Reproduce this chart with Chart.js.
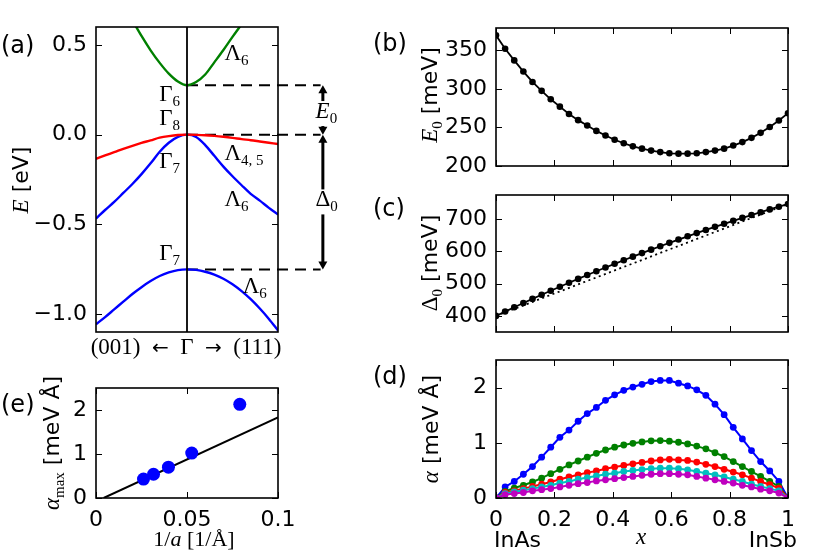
<!DOCTYPE html>
<html><head><meta charset="utf-8">
<script src="https://cdn.jsdelivr.net/npm/chart.js@4.4.1/dist/chart.umd.min.js"></script>
<style>
html,body{margin:0;padding:0;background:#fff;}
#wrap{position:relative;width:830px;height:554px;overflow:hidden;background:#fff;}
canvas{position:absolute;left:0;top:0;}
</style></head><body><div id="wrap">
<canvas id="pa" width="830" height="554"></canvas>
<canvas id="pb" width="830" height="554"></canvas>
<canvas id="pc" width="830" height="554"></canvas>
<canvas id="pd" width="830" height="554"></canvas>
<canvas id="pe" width="830" height="554"></canvas>
</div>
<script>
// ---------------- data: panel (a) band structure ----------------
const bandK = [-1,-0.9,-0.8,-0.7,-0.6,-0.5,-0.4,-0.3,-0.2,-0.1,0,0.1,0.2,0.3,0.4,0.5,0.6,0.7,0.8,0.9,1];
const heavyHoleE = [-0.135,-0.116,-0.098,-0.079,-0.062,-0.046,-0.032,-0.017,-0.008,-0.002,0,-0.001,-0.003,-0.007,-0.012,-0.018,-0.025,-0.031,-0.038,-0.045,-0.052];
const lightHoleE = [-0.468,-0.42,-0.375,-0.325,-0.275,-0.22,-0.16,-0.095,-0.045,-0.012,0,-0.013,-0.058,-0.118,-0.178,-0.232,-0.282,-0.33,-0.368,-0.408,-0.445];
const splitOffE = [-1.057,-1.017,-0.974,-0.931,-0.888,-0.850,-0.816,-0.788,-0.768,-0.755,-0.751,-0.754,-0.764,-0.780,-0.803,-0.834,-0.872,-0.917,-0.969,-1.027,-1.091];
const condK = [-0.62,-0.5,-0.4,-0.3,-0.2,-0.1,0,0.1,0.2,0.3,0.4,0.5,0.6];
const condE = [0.655,0.55,0.47,0.40,0.34,0.296,0.275,0.293,0.335,0.403,0.472,0.545,0.615];
const levelE = [0.275, 0, -0.751];          // Γ6, Γ8, Γ7 levels
const levelEndK = 1.468, arrowK = 1.493;
const aYTicks = [-1.0,-0.5,0.0,0.5];
const aYLabels = ['\u22121.0','\u22120.5','0.0','0.5'];

// ---------------- data: panels (b)-(d) vs composition ----------------
const xComp = [0,0.03125,0.0625,0.09375,0.125,0.15625,0.1875,0.21875,0.25,0.28125,0.3125,0.34375,0.375,0.40625,0.4375,0.46875,0.5,0.53125,0.5625,0.59375,0.625,0.65625,0.6875,0.71875,0.75,0.78125,0.8125,0.84375,0.875,0.90625,0.9375,0.96875,1];
const gapE0 = [369.5,352,337,322.5,309,297.5,286.5,277,267.5,259.5,252.5,245.5,239.5,234,229.5,225.5,222.5,220,218,216.5,216,216,216.5,218,220,222.5,226.5,231,236.5,243,250.5,259,268.5];
const splitDelta0 = [400,413.4,426.7,439.8,452.7,465.4,478.0,490.4,502.7,514.8,526.7,538.5,550.0,561.5,572.7,583.8,594.8,605.5,616.1,626.5,636.8,646.9,656.8,666.6,676.2,685.6,694.9,704.0,712.9,721.7,730.3,738.7,747];
const linearX = [0,1];
const linearDelta0 = [400,747];
const alphaBlue = [0,0.20,0.30,0.43,0.57,0.74,0.92,1.10,1.23,1.39,1.53,1.64,1.77,1.87,1.95,2.01,2.06,2.11,2.13,2.13,2.08,2.03,1.96,1.86,1.70,1.51,1.28,1.07,0.86,0.66,0.49,0.30,0];
const alphaGreen = [0,0.12,0.18,0.23,0.29,0.36,0.44,0.52,0.60,0.67,0.74,0.81,0.87,0.92,0.96,0.99,1.015,1.035,1.04,1.03,1.01,0.98,0.94,0.89,0.82,0.75,0.66,0.57,0.48,0.39,0.30,0.21,0];
const alphaRed = [0,0.10,0.13,0.17,0.21,0.25,0.29,0.34,0.38,0.42,0.46,0.49,0.53,0.56,0.59,0.62,0.645,0.67,0.69,0.70,0.69,0.68,0.65,0.61,0.57,0.52,0.47,0.42,0.36,0.30,0.24,0.18,0];
const alphaCyan = [0,0.08,0.11,0.14,0.17,0.20,0.23,0.27,0.30,0.34,0.37,0.40,0.43,0.45,0.48,0.50,0.515,0.53,0.54,0.54,0.53,0.51,0.48,0.45,0.42,0.38,0.34,0.30,0.25,0.21,0.17,0.13,0];
const alphaMagenta = [0,0.06,0.08,0.10,0.13,0.15,0.17,0.20,0.23,0.26,0.28,0.31,0.33,0.35,0.37,0.39,0.41,0.43,0.44,0.44,0.43,0.42,0.39,0.36,0.33,0.30,0.27,0.23,0.20,0.16,0.13,0.09,0];
const compTicks = [0,0.2,0.4,0.6,0.8,1];
const compLabels = ['0','0.2','0.4','0.6','0.8','1'];
const bTicks = [200,250,300,350], bLabels = ['200','250','300','350'];
const cTicks = [400,500,600,700], cLabels = ['400','500','600','700'];
const dTicks = [0,1,2], dLabels = ['0','1','2'];

// ---------------- data: panel (e) ----------------
const invLattice = [0.0261,0.0316,0.0398,0.0526,0.0790];
const alphaMax = [0.43,0.54,0.70,1.02,2.13];
const fitX = [0.0042,0.1];
const fitY = [0,1.834];
const eXTicks = [0,0.05,0.1], eXLabels = ['0','0.05','0.1'];
const eYTicks = [0,1,2], eYLabels = ['0','1','2'];

// ---------------- helpers ----------------
const W = 830, H = 554, YW = 90, XH = 40;
const SANS = '"DejaVu Sans"', SERIF = '"Liberation Serif"';
const F = (size, fam, style) => (style ? style + ' ' : '') + size + 'px ' + fam;
const T = (t, f, dy) => ({ t, f, dy: dy || 0 });
const zip = (xs, ys) => xs.map((x, i) => ({ x, y: ys[i] }));

function rich(ctx, x, y, parts, align, rot, bg) {
  ctx.save();
  ctx.translate(x, y);
  if (rot) ctx.rotate(rot);
  ctx.textBaseline = 'alphabetic';
  ctx.textAlign = 'left';
  let w = 0;
  const ws = parts.map(p => { ctx.font = p.f; const m = ctx.measureText(p.t).width; w += m; return m; });
  let cx = align === 'center' ? -w / 2 : (align === 'right' ? -w : 0);
  if (bg) { ctx.fillStyle = '#fff'; ctx.fillRect(cx - 1, -17, w + 2, 25); }
  ctx.fillStyle = '#000';
  parts.forEach((p, i) => { ctx.font = p.f; ctx.fillText(p.t, cx, p.dy); cx += ws[i]; });
  ctx.restore();
}

const framePlugin = {
  id: 'frame',
  afterDraw(chart) {
    const { ctx, chartArea: a, scales } = chart;
    const tl = 6;
    ctx.save();
    ctx.strokeStyle = '#000';
    ctx.lineWidth = 1;
    ctx.beginPath();
    scales.x.ticks.forEach(t => {
      const p = Math.round(scales.x.getPixelForValue(t.value)) + 0.5;
      ctx.moveTo(p, a.bottom); ctx.lineTo(p, a.bottom - tl);
      ctx.moveTo(p, a.top); ctx.lineTo(p, a.top + tl);
    });
    scales.y.ticks.forEach(t => {
      const p = Math.round(scales.y.getPixelForValue(t.value)) + 0.5;
      ctx.moveTo(a.left, p); ctx.lineTo(a.left + tl, p);
      ctx.moveTo(a.right, p); ctx.lineTo(a.right - tl, p);
    });
    ctx.stroke();
    ctx.lineWidth = 1.6;
    ctx.strokeRect(a.left, a.top, a.right - a.left, a.bottom - a.top);
    ctx.restore();
  }
};

function axis(o, dir) {
  return {
    type: 'linear', min: o.min, max: o.max,
    afterFit: s => { if (dir === 'x') s.height = XH; else s.width = YW; },
    afterBuildTicks: s => { s.ticks = o.ticks.map(v => ({ value: v })); },
    grid: { display: false, drawTicks: false },
    border: { display: false },
    ticks: {
      display: !!o.labels, autoSkip: false, maxRotation: 0, minRotation: 0,
      padding: dir === 'x' ? 9 : 9, color: '#000',
      font: { family: 'DejaVu Sans', size: 22 },
      callback: (v, i) => (o.labels ? o.labels[i] : '')
    }
  };
}

function panel(id, box, xo, yo, datasets, texts) {
  return new Chart(document.getElementById(id), {
    type: 'scatter',
    data: { datasets },
    options: {
      responsive: false, animation: false, devicePixelRatio: 1, events: [],
      layout: { padding: { left: box[0] - YW, top: box[1], right: W - box[2], bottom: H - box[3] - XH } },
      plugins: { legend: { display: false }, tooltip: { enabled: false } },
      scales: { x: axis(xo, 'x'), y: axis(yo, 'y') }
    },
    plugins: [framePlugin, { id: 'txt_' + id, afterDraw: c => texts(c.ctx, c.scales.x, c.scales.y) }]
  });
}

const line = (pts, color, lw, extra) => Object.assign({
  data: pts, showLine: true, borderColor: color, backgroundColor: color,
  borderWidth: lw, pointRadius: 0, tension: 0
}, extra || {});

// ---------------- panel (a) ----------------
const bandLabels = [
  { k: -0.305, e: 0.1855, m: '\u0393', s: '6' },
  { k: -0.305, e: 0.0557, m: '\u0393', s: '8' },
  { k: -0.305, e: -0.1855, m: '\u0393', s: '7' },
  { k: -0.305, e: -0.696, m: '\u0393', s: '7' },
  { k: 0.411, e: 0.418, m: '\u039B', s: '6' },
  { k: 0.411, e: -0.139, m: '\u039B', s: '4, 5' },
  { k: 0.411, e: -0.399, m: '\u039B', s: '6' },
  { k: 0.612, e: -0.882, m: '\u039B', s: '6' }
];

function vArrow(ctx, x, y1, y2) {
  const hl = 8, hw = 4.5;
  ctx.save();
  ctx.strokeStyle = '#000'; ctx.fillStyle = '#000'; ctx.lineWidth = 3;
  ctx.beginPath(); ctx.moveTo(x, y1 + hl - 1); ctx.lineTo(x, y2 - hl + 1); ctx.stroke();
  ctx.beginPath(); ctx.moveTo(x, y1); ctx.lineTo(x - hw, y1 + hl); ctx.lineTo(x + hw, y1 + hl); ctx.closePath(); ctx.fill();
  ctx.beginPath(); ctx.moveTo(x, y2); ctx.lineTo(x - hw, y2 - hl); ctx.lineTo(x + hw, y2 - hl); ctx.closePath(); ctx.fill();
  ctx.restore();
}

panel('pa', [96, 27, 278, 332],
  { min: -1, max: 1, ticks: [] },
  { min: -1.1, max: 0.6, ticks: aYTicks, labels: aYLabels },
  [
    line(zip([0, 0], [-1.1, 0.6]), '#000', 1.8),
    line(zip(bandK, heavyHoleE), '#ff0000', 2.4, { cubicInterpolationMode: 'monotone' }),
    line(zip(bandK, lightHoleE), '#0000ff', 2.4, { cubicInterpolationMode: 'monotone' }),
    line(zip(bandK, splitOffE), '#0000ff', 2.4, { cubicInterpolationMode: 'monotone' }),
    line(zip(condK, condE), '#008000', 2.4, { cubicInterpolationMode: 'monotone' }),
    ...levelE.map(e => line(zip([0, levelEndK], [e, e]), '#000', 2, { borderDash: [11, 7], clip: false }))
  ],
  (ctx, xs, ys) => {
    const px = k => xs.getPixelForValue(k), py = e => ys.getPixelForValue(e);
    bandLabels.forEach(L => rich(ctx, px(L.k), py(L.e), [T(L.m, F(23, SERIF)), T(L.s, F(15, SERIF), 5)], 'left'));
    const ax = px(arrowK);
    vArrow(ctx, ax, py(levelE[0]), py(levelE[1]));
    vArrow(ctx, ax, py(levelE[1]), py(levelE[2]));
    rich(ctx, px(1.413), py(0.0925), [T('E', F(23, SERIF, 'italic')), T('0', F(15, SERIF), 5)], 'left', 0, true);
    rich(ctx, px(1.413), py(-0.40), [T('\u0394', F(23, SERIF)), T('0', F(15, SERIF), 5)], 'left', 0, true);
    rich(ctx, 28, 180, [T('E', F(23, SERIF, 'italic')), T(' [eV]', F(22, SANS))], 'center', -Math.PI / 2);
    rich(ctx, 186, 354, [
      T('(001)\u2002', F(23, SERIF)), T('\u2190', F(20, SANS)), T('\u2002\u0393\u2002', F(23, SERIF)),
      T('\u2192', F(20, SANS)), T('\u2002(111)', F(23, SERIF))
    ], 'center');
    rich(ctx, 1, 53, [T('(a)', F(24, SANS))], 'left');
  });

// ---------------- panel (b) ----------------
panel('pb', [496, 28, 788, 166],
  { min: 0, max: 1, ticks: compTicks },
  { min: 200, max: 379, ticks: bTicks, labels: bLabels },
  [line(zip(xComp, gapE0), '#000', 1.8, { pointRadius: 3.3, pointBorderWidth: 0 })],
  (ctx) => {
    rich(ctx, 437, 95, [T('E', F(23, SERIF, 'italic')), T('0', F(15, SERIF), 5), T(' [meV]', F(22, SANS))], 'center', -Math.PI / 2);
    rich(ctx, 373, 51, [T('(b)', F(24, SANS))], 'left');
  });

// ---------------- panel (c) ----------------
panel('pc', [496, 195, 788, 332],
  { min: 0, max: 1, ticks: compTicks },
  { min: 350, max: 775, ticks: cTicks, labels: cLabels },
  [
    line(zip(xComp, splitDelta0), '#000', 1.8, { pointRadius: 3.3, pointBorderWidth: 0 }),
    line(zip(linearX, linearDelta0), '#000', 1.8, { borderDash: [2, 3.5] })
  ],
  (ctx) => {
    rich(ctx, 437, 263, [T('\u0394', F(23, SERIF)), T('0', F(15, SERIF), 5), T(' [meV]', F(22, SANS))], 'center', -Math.PI / 2);
    rich(ctx, 373, 216, [T('(c)', F(24, SANS))], 'left');
  });

// ---------------- panel (d) ----------------
const dSeries = [
  [alphaBlue, '#0000ff', 5], [alphaGreen, '#008000', 4], [alphaRed, '#ff0000', 3],
  [alphaCyan, '#00bfbf', 2], [alphaMagenta, '#bf00bf', 1]
];
panel('pd', [496, 360, 788, 498],
  { min: 0, max: 1, ticks: compTicks, labels: compLabels },
  { min: 0, max: 2.5, ticks: dTicks, labels: dLabels },
  dSeries.map(([vals, col, ord]) => line(zip(xComp, vals), col, 2, { pointRadius: 3.4, pointBorderWidth: 0, order: ord })),
  (ctx) => {
    rich(ctx, 438, 429, [T('\u03B1', F(23, SERIF, 'italic')), T(' [meV \u00C5]', F(22, SANS))], 'center', -Math.PI / 2);
    rich(ctx, 373, 384, [T('(d)', F(24, SANS))], 'left');
    rich(ctx, 494, 547, [T('InAs', F(22, SANS))], 'left');
    rich(ctx, 797, 547, [T('InSb', F(22, SANS))], 'right');
    rich(ctx, 641, 544, [T('x', F(23, SERIF, 'italic'))], 'center');
  });

// ---------------- panel (e) ----------------
panel('pe', [96, 388, 278, 498],
  { min: 0, max: 0.1, ticks: eXTicks, labels: eXLabels },
  { min: 0, max: 2.5, ticks: eYTicks, labels: eYLabels },
  [
    { data: zip(invLattice, alphaMax), showLine: false, pointRadius: 6.5, pointBorderWidth: 0, backgroundColor: '#0000ff', borderColor: '#0000ff', order: 1 },
    line(zip(fitX, fitY), '#000', 2, { order: 2 })
  ],
  (ctx) => {
    rich(ctx, 59, 443, [T('\u03B1', F(23, SERIF, 'italic')), T('max', F(15, SERIF), 5), T(' [meV \u00C5]', F(22, SANS))], 'center', -Math.PI / 2);
    rich(ctx, 1, 412, [T('(e)', F(24, SANS))], 'left');
    rich(ctx, 194, 546, [T('1/', F(22, SERIF)), T('a', F(22, SERIF, 'italic')), T(' [1/\u00C5]', F(22, SERIF))], 'center');
  });
</script>
</body></html>
